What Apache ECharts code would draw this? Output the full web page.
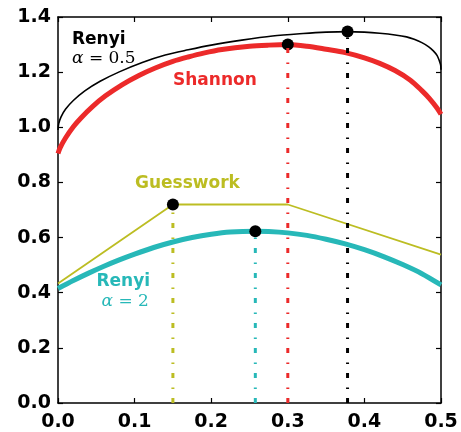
<!DOCTYPE html>
<html>
<head>
<meta charset="utf-8">
<script src="https://cdn.jsdelivr.net/npm/echarts@6/dist/echarts.min.js"></script>
<style>html,body{margin:0;padding:0;background:#fff}#c{width:461px;height:432px}</style>
</head>
<body>
<div id="c"></div>
<script>
// ---- data ----
const xTicks = [0.0, 0.1, 0.2, 0.3, 0.4, 0.5];
const yTicks = [0.0, 0.2, 0.4, 0.6, 0.8, 1.0, 1.2, 1.4];

const renyiHalfP = [0, 0.001, 0.004, 0.01, 0.02, 0.035, 0.055, 0.08, 0.11, 0.14, 0.17, 0.2, 0.24, 0.28, 0.32, 0.35, 0.378, 0.4, 0.42, 0.44, 0.455, 0.465, 0.475, 0.484, 0.49, 0.495, 0.498, 0.4995, 0.5];
const renyiHalfV = [0.99, 1.014, 1.038, 1.066, 1.097, 1.132, 1.167, 1.201, 1.235, 1.262, 1.281, 1.298, 1.316, 1.331, 1.340, 1.345, 1.347, 1.345, 1.341, 1.335, 1.328, 1.319, 1.307, 1.292, 1.277, 1.26, 1.24, 1.226, 1.209];

const shannonP = [0, 0.003, 0.01, 0.02, 0.03, 0.045, 0.062, 0.0835, 0.105, 0.127, 0.15, 0.17, 0.19, 0.214, 0.25, 0.275, 0.3, 0.325, 0.35, 0.375, 0.4, 0.42, 0.44, 0.46, 0.475, 0.485, 0.495, 0.5];
const shannonV = [0.905, 0.927, 0.962, 1.002, 1.034, 1.075, 1.114, 1.154, 1.187, 1.215, 1.239, 1.255, 1.269, 1.282, 1.294, 1.298, 1.30, 1.294, 1.283, 1.271, 1.252, 1.232, 1.206, 1.171, 1.133, 1.104, 1.069, 1.047];

const renyi2P = [0, 0.02, 0.04, 0.06, 0.08, 0.1, 0.125, 0.15, 0.175, 0.2, 0.225, 0.2576, 0.275, 0.3, 0.325, 0.35, 0.375, 0.4, 0.425, 0.45, 0.475, 0.5];
const renyi2V = [0.415, 0.444, 0.471, 0.496, 0.519, 0.540, 0.564, 0.584, 0.600, 0.612, 0.620, 0.623, 0.622, 0.617, 0.608, 0.594, 0.577, 0.556, 0.531, 0.502, 0.469, 0.428];

const guessP = [0, 0.15, 0.3, 0.5];
const guessV = [0.433, 0.72, 0.72, 0.538];

// maxima (dots + vertical dash-dot lines): Guesswork, Renyi2, Shannon, Renyi0.5
const maxP = [0.15, 0.2576, 0.3, 0.378];
const maxV = [0.72, 0.623, 1.30, 1.347];

// ---- styling ----
const RED = '#ec2a2a', CYAN = '#27b8b8', OLIVE = '#bcbd22', BLACK = '#000000';
const maxColors = [OLIVE, CYAN, RED, BLACK];
const zip = (a, b) => a.map((v, i) => [v, b[i]]);

const chart = echarts.init(document.getElementById('c'), null, {renderer: 'canvas'});

const tickFont = {fontFamily: 'DejaVu Sans', fontWeight: 'bold', fontSize: 19, color: '#000'};
const axisLine = {show: true, onZero: false, lineStyle: {color: '#000', width: 1.5}};
const axisTick = {show: true, inside: true, length: 5, lineStyle: {color: '#000', width: 1.2}};

const series = [
  {type: 'line', data: zip(renyiHalfP, renyiHalfV), smooth: 0.3, symbol: 'none',
   lineStyle: {color: BLACK, width: 1.6}, z: 2},
  {type: 'line', data: zip(shannonP, shannonV), smooth: 0.3, symbol: 'none',
   lineStyle: {color: RED, width: 5}, z: 2},
  {type: 'line', data: zip(renyi2P, renyi2V), smooth: 0.3, symbol: 'none',
   lineStyle: {color: CYAN, width: 5}, z: 2},
  {type: 'line', data: zip(guessP, guessV), symbol: 'none',
   lineStyle: {color: OLIVE, width: 1.8}, z: 2},
  {type: 'scatter', data: zip(maxP, maxV), symbol: 'circle', symbolSize: 12,
   itemStyle: {color: '#000', opacity: 1}, z: 3}
];
maxP.forEach((p, i) => {
  series.push({type: 'line', data: [[p, 0], [p, maxV[i]]], symbol: 'none',
    lineStyle: {color: maxColors[i], width: 3, type: [5, 9, 1.5, 9.5]}, z: 4});
});

const bold17 = {fontFamily: 'DejaVu Sans', fontWeight: 'bold', fontSize: 17};
const serif17 = {fontFamily: 'DejaVu Serif', fontSize: 17};

chart.setOption({
  animation: false,
  backgroundColor: '#fff',
  grid: {left: 58, right: 20, top: 17, bottom: 27, containLabel: false},
  xAxis: [
    {type: 'value', min: 0, max: 0.5, interval: 0.1, position: 'bottom',
     axisLine: axisLine, axisTick: axisTick, splitLine: {show: false},
     axisLabel: Object.assign({margin: 10, formatter: v => v.toFixed(1)}, tickFont)},
    {type: 'value', min: 0, max: 0.5, interval: 0.1, position: 'top',
     axisLine: axisLine, axisTick: axisTick, splitLine: {show: false}, axisLabel: {show: false}}
  ],
  yAxis: [
    {type: 'value', min: 0, max: 1.4, interval: 0.2, position: 'left',
     axisLine: axisLine, axisTick: axisTick, splitLine: {show: false},
     axisLabel: Object.assign({margin: 7, formatter: v => v.toFixed(1)}, tickFont)},
    {type: 'value', min: 0, max: 1.4, interval: 0.2, position: 'right',
     axisLine: axisLine, axisTick: axisTick, splitLine: {show: false}, axisLabel: {show: false}}
  ],
  series: series,
  graphic: [
    {type: 'text', x: 72, y: 40, z: 10, style: Object.assign({text: 'Renyi', fill: BLACK, verticalAlign: 'middle'}, bold17)},
    {type: 'text', x: 72, y: 59, z: 10, style: Object.assign({text: '{a|α} = 0.5', fill: BLACK, verticalAlign: 'middle', rich: {a: {fontStyle: 'italic', fontFamily: 'DejaVu Serif', fontSize: 17}}}, serif17)},
    {type: 'text', x: 173, y: 81, z: 10, style: Object.assign({text: 'Shannon', fill: RED, verticalAlign: 'middle'}, bold17)},
    {type: 'text', x: 135, y: 184, z: 10, style: Object.assign({text: 'Guesswork', fill: OLIVE, verticalAlign: 'middle'}, bold17)},
    {type: 'text', x: 96.5, y: 282, z: 10, style: Object.assign({text: 'Renyi', fill: CYAN, verticalAlign: 'middle'}, bold17)},
    {type: 'text', x: 101.5, y: 302, z: 10, style: Object.assign({text: '{a|α} = 2', fill: CYAN, verticalAlign: 'middle', rich: {a: {fontStyle: 'italic', fontFamily: 'DejaVu Serif', fontSize: 17, fill: CYAN}}}, serif17)}
  ]
});
</script>
</body>
</html>
